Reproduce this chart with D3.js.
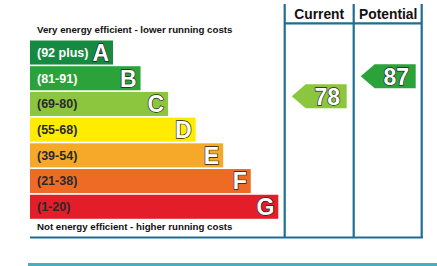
<!DOCTYPE html>
<html>
<head>
<meta charset="utf-8">
<script src="https://cdn.jsdelivr.net/npm/d3@7"></script>
<style>
  body { margin: 0; background: #fff; }
  svg { display: block; font-family: "Liberation Sans", Arial, sans-serif; }
</style>
</head>
<body>
<svg id="epc" width="437" height="266"></svg>
<script>
const letters = ["A", "B", "C", "D", "E", "F", "G"];
const ranges = ["(92 plus)", "(81-91)", "(69-80)", "(55-68)", "(39-54)", "(21-38)", "(1-20)"];
const bandColors = ["#178a42", "#2ba23a", "#8cc63f", "#ffec00", "#f6a928", "#ee6b26", "#e31d2a"];
const columns = ["Current", "Potential"];
const ratings = [78, 87];
const ratingBands = ["C", "B"];

const svg = d3.select("#epc");
const border = "#1f6d94";

const y = d3.scaleBand()
  .domain(letters)
  .range([40.5, 218.8])
  .paddingInner(0.065);

const xRight = d3.scaleLinear()
  .domain([0, letters.length - 1])
  .range([113, 278.3]);

const barLeft = 30;

// arrow vertical placement by rating
const yRating = d3.scaleLinear().domain([87, 78]).range([76.2, 96.2]);

const colX = d3.scaleOrdinal().domain(columns).range([284.7, 353.7]);
const colW = 69;

svg.append("text")
  .attr("x", 37).attr("y", 32.5)
  .attr("font-size", 9.7).attr("font-weight", "bold")
  .attr("fill", "#111")
  .text("Very energy efficient - lower running costs");

svg.append("text")
  .attr("x", 37).attr("y", 230)
  .attr("font-size", 9.7).attr("font-weight", "bold")
  .attr("fill", "#111")
  .text("Not energy efficient - higher running costs");

const bars = svg.append("g").selectAll("g")
  .data(letters)
  .join("g");

bars.append("rect")
  .attr("x", barLeft)
  .attr("y", d => y(d))
  .attr("width", (d, i) => xRight(i) - barLeft)
  .attr("height", y.bandwidth())
  .attr("fill", (d, i) => bandColors[i]);

bars.append("text")
  .attr("x", 37)
  .attr("y", d => y(d) + y.bandwidth() / 2 + 4.3)
  .attr("font-size", 12.5).attr("font-weight", "bold")
  .attr("fill", (d, i) => i < 2 ? "#fff" : "#2a2a2a")
  .text((d, i) => ranges[i]);

bars.append("text")
  .attr("x", (d, i) => xRight(i) - 4)
  .attr("y", d => y(d) + y.bandwidth() / 2 + 8.3)
  .attr("text-anchor", "end")
  .attr("font-size", 23)
  .attr("font-weight", "bold")
  .attr("fill", "#fff")
  .attr("stroke", "#222")
  .attr("stroke-width", 1.3)
  .attr("paint-order", "stroke")
  .text(d => d);

// frame
const frame = svg.append("g").attr("stroke", border).attr("stroke-width", 2.2).attr("fill", "none");
[284.7, 353.7, 421.7].forEach(x => {
  frame.append("line").attr("x1", x).attr("x2", x).attr("y1", 4).attr("y2", 238);
});
frame.append("line").attr("x1", 284.7).attr("x2", 421.7).attr("y1", 23.3).attr("y2", 23.3);
frame.append("line").attr("x1", 30).attr("x2", 422.8).attr("y1", 237.5).attr("y2", 237.5);

svg.append("g").selectAll("text")
  .data(columns)
  .join("text")
  .attr("x", d => colX(d) + colW / 2)
  .attr("y", 18.5)
  .attr("text-anchor", "middle")
  .attr("font-size", 13.8).attr("font-weight", "bold")
  .attr("fill", "#111")
  .text(d => d);

// rating arrows
const aw = 55, ah = 24, tip = 14;
const arrows = svg.append("g").selectAll("g")
  .data(columns)
  .join("g")
  .attr("transform", (d, i) => `translate(${colX(d) + 7},${yRating(ratings[i]) - ah / 2})`);

arrows.append("path")
  .attr("d", `M0,${ah / 2}L${tip},0H${aw}V${ah}H${tip}Z`)
  .attr("fill", (d, i) => bandColors[letters.indexOf(ratingBands[i])]);

arrows.append("text")
  .attr("x", tip + (aw - tip) / 2 + 1)
  .attr("y", ah / 2 + 8.3)
  .attr("text-anchor", "middle")
  .attr("font-size", 23)
  .attr("font-weight", "bold")
  .attr("fill", "#fff")
  .attr("stroke", "#222")
  .attr("stroke-width", 1.3)
  .attr("paint-order", "stroke")
  .text((d, i) => ratings[i]);

// footer band
svg.append("rect")
  .attr("x", 28).attr("y", 263)
  .attr("width", 437 - 28).attr("height", 3)
  .attr("fill", "#46aebf");
</script>
</body>
</html>
